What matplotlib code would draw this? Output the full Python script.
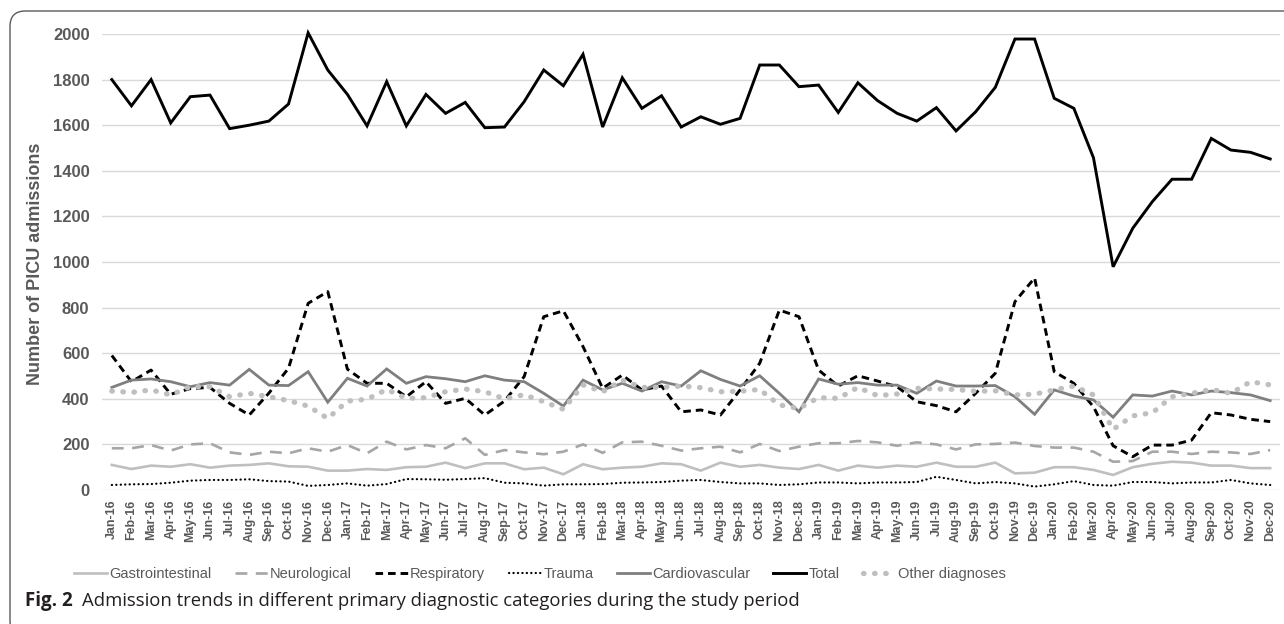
import matplotlib
matplotlib.use('Agg')
import matplotlib.pyplot as plt
from matplotlib import font_manager
from matplotlib.patches import FancyBboxPatch
import numpy as np

# months Jan-16 .. Dec-20
years = ['16', '17', '18', '19', '20']
mon = ['Jan', 'Feb', 'Mar', 'Apr', 'May', 'Jun', 'Jul', 'Aug', 'Sep', 'Oct', 'Nov', 'Dec']
months = [m + '-' + y for y in years for m in mon]

gastro = [110, 92, 107, 102, 113, 98, 107, 110, 117, 104, 102, 85,
          85, 92, 88, 100, 102, 120, 96, 117, 117, 91, 98, 69,
          113, 91, 98, 102, 117, 113, 85, 120, 102, 110, 98, 92,
          110, 85, 107, 98, 107, 102, 120, 102, 102, 120, 73, 76,
          100, 100, 88, 66, 100, 115, 124, 120, 107, 107, 96, 96]
neuro = [183, 183, 197, 173, 200, 205, 165, 154, 168, 161, 183, 168,
         197, 161, 212, 178, 197, 183, 227, 154, 175, 165, 157, 168,
         200, 163, 209, 212, 194, 173, 183, 190, 165, 202, 171, 190,
         205, 205, 215, 209, 194, 209, 200, 178, 200, 202, 208, 193,
         186, 186, 168, 124, 127, 168, 168, 158, 168, 165, 158, 175]
resp = [590, 475, 526, 420, 445, 450, 380, 329, 425, 534, 819, 870,
        530, 468, 468, 409, 475, 380, 402, 329, 390, 497, 760, 786,
        629, 446, 504, 439, 456, 343, 351, 329, 439, 556, 789, 760,
        526, 456, 501, 478, 453, 387, 370, 343, 424, 512, 826, 930,
        519, 468, 365, 194, 146, 197, 197, 219, 339, 329, 310, 300]
trauma = [22, 25, 26, 32, 41, 44, 44, 47, 39, 37, 18, 22,
          29, 19, 26, 48, 47, 45, 48, 52, 32, 29, 19, 25,
          25, 26, 32, 33, 35, 41, 44, 35, 29, 29, 22, 25,
          33, 33, 29, 33, 33, 35, 58, 44, 29, 35, 29, 15,
          25, 39, 22, 19, 35, 35, 29, 33, 33, 44, 29, 22]
cardio = [450, 482, 487, 475, 453, 471, 460, 529, 460, 458, 519, 385,
          490, 456, 531, 468, 497, 488, 475, 501, 482, 475, 424, 368,
          482, 439, 468, 434, 475, 456, 523, 485, 456, 501, 424, 343,
          487, 464, 471, 460, 460, 424, 478, 456, 456, 458, 409, 332,
          439, 412, 395, 319, 417, 412, 434, 417, 434, 427, 417, 392]
total = [1800, 1685, 1800, 1610, 1725, 1732, 1585, 1600, 1618, 1693, 2005, 1842,
         1735, 1597, 1791, 1597, 1735, 1652, 1700, 1589, 1592, 1703, 1842, 1773,
         1911, 1592, 1808, 1674, 1729, 1592, 1637, 1604, 1630, 1864, 1864, 1769,
         1776, 1656, 1786, 1708, 1652, 1618, 1677, 1575, 1659, 1766, 1978, 1978,
         1718, 1674, 1457, 979, 1148, 1265, 1363, 1363, 1542, 1491, 1481, 1452]
other = [434, 428, 439, 417, 453, 453, 409, 424, 409, 392, 368, 314,
         390, 398, 441, 402, 405, 431, 443, 431, 400, 418, 387, 354,
         461, 431, 482, 450, 450, 456, 449, 431, 433, 441, 373, 358,
         405, 402, 450, 414, 421, 446, 443, 441, 433, 435, 417, 420,
         439, 456, 417, 266, 325, 339, 409, 424, 441, 424, 475, 461]

yticks = [0, 200, 400, 600, 800, 1000, 1200, 1400, 1600, 1800, 2000]

# fonts: narrow Arial-like for x ticks / legend if there is one
names = {f.name for f in font_manager.fontManager.ttflist}
if 'Liberation Sans Narrow' in names:
    narrow, xt_size, lg_size = 'Liberation Sans Narrow', 10.5, 12
else:
    narrow, xt_size, lg_size = 'Liberation Sans', 9, 10.5
grey_txt = '#595959'

W, H = 1284, 624
fig = plt.figure(figsize=(W / 100, H / 100), dpi=100)

# rounded frame around the figure
frame = FancyBboxPatch((10 / W, -12 / H), 1.2, (H - 11 + 12) / H,
                       boxstyle='round,pad=0,rounding_size=0.012',
                       transform=fig.transFigure, fill=False,
                       ec='#5a5a5a', lw=1.0, mutation_aspect=W / H)
fig.patches.append(frame)

ax = fig.add_axes([102 / W, (H - 490) / H, (1280 - 102) / W, (490 - 34) / H])
x = np.arange(len(months))

series = [
    ('Gastrointestinal', gastro, dict(color='#bfbfbf', lw=1.9, ls='-')),
    ('Neurological', neuro, dict(color='#a6a6a6', lw=1.9, ls=(0, (4.5, 3.2)))),
    ('Respiratory', resp, dict(color='black', lw=2.1, ls=(0, (2.6, 1.7)))),
    ('Trauma', trauma, dict(color='black', lw=1.6, ls=(0, (0.1, 1.9)),
                            dash_capstyle='round')),
    ('Cardiovascular', cardio, dict(color='#7f7f7f', lw=2.0, ls='-')),
    ('Total', total, dict(color='black', lw=2.1, ls='-')),
    ('Other diagnoses', other, dict(color='#bfbfbf', lw=3.8, ls=(0, (0.1, 2.0)),
                                    dash_capstyle='round')),
]
handles = []
for name, vals, st in series:
    ln, = ax.plot(x, vals, label=name, clip_on=False, solid_joinstyle='miter', **st)
    handles.append(ln)

ax.set_xlim(-0.5, len(months) - 0.5)
ax.set_ylim(0, 2000)
ax.set_yticks(yticks)
ax.set_yticklabels([str(v) for v in yticks], fontsize=12, fontweight='bold',
                   color=grey_txt, family='Liberation Sans')
ax.set_xticks(x)
ax.set_xticklabels(months, rotation=90, fontsize=xt_size, fontweight='bold',
                   color=grey_txt, family=narrow)
ax.tick_params(axis='both', length=0)
ax.tick_params(axis='y', pad=9)
ax.tick_params(axis='x', pad=7)
ax.grid(axis='y', color='#d9d9d9', lw=1.0)
ax.set_axisbelow(True)
for s in ax.spines.values():
    s.set_visible(False)

fig.text(36 / W, 1 - 264 / H, 'Number of PICU admissions', rotation=90,
         ha='center', va='center', fontsize=13, fontweight='bold',
         color=grey_txt, family='Liberation Sans')

leg = fig.legend(handles=handles, loc='center', bbox_to_anchor=(540 / W, 1 - 574 / H),
                 ncol=7, frameon=False, handlelength=2.25, handletextpad=0.15,
                 columnspacing=1.6, prop={'family': narrow, 'size': lg_size})
for t in leg.get_texts():
    t.set_color(grey_txt)

fig.text(25 / W, 1 - 601 / H, 'Fig. 2', ha='left', va='center', fontsize=13.5,
         fontweight='bold', color='#231f20', family='Open Sans')
fig.text(82 / W, 1 - 601 / H,
         'Admission trends in different primary diagnostic categories during the study period',
         ha='left', va='center', fontsize=13.3, color='#231f20', family='Open Sans')

fig.savefig('out.png', dpi=100)
